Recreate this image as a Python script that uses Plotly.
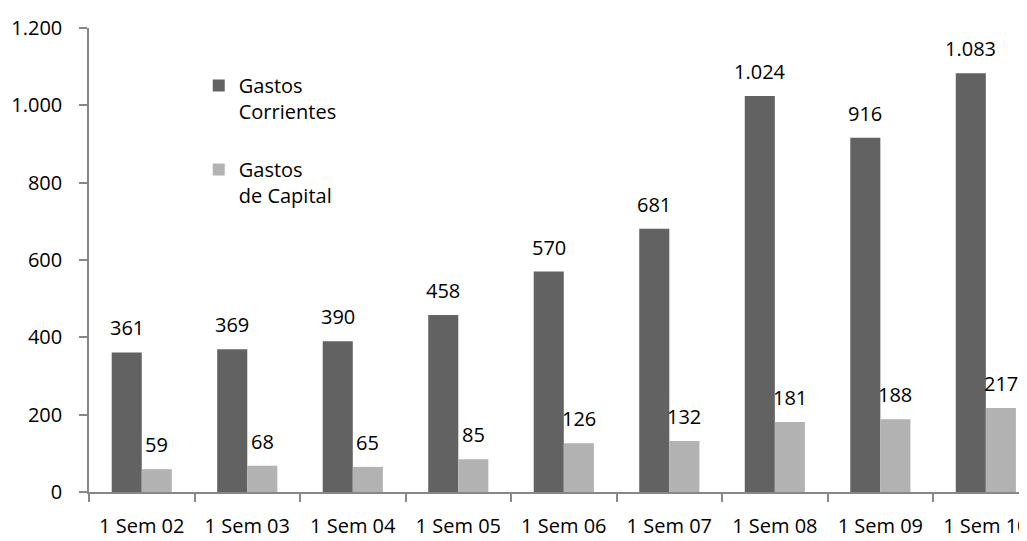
import plotly.graph_objects as go

categories = ["1 Sem 02", "1 Sem 03", "1 Sem 04", "1 Sem 05", "1 Sem 06",
              "1 Sem 07", "1 Sem 08", "1 Sem 09", "1 Sem 10"]
gastos_corrientes = [361, 369, 390, 458, 570, 681, 1024, 916, 1083]
gastos_capital = [59, 68, 65, 85, 126, 132, 181, 188, 217]
y_ticks = [0, 200, 400, 600, 800, 1000, 1200]
y_tick_labels = ["0", "200", "400", "600", "800", "1.000", "1.200"]

FONT = "Open Sans"
TEXT = "#000000"
DARK = "#626262"
LIGHT = "#b2b2b2"
AXIS = "#878787"

def fmt(v):
    return f"{v:,}".replace(",", ".")

fig = go.Figure()
fig.add_trace(go.Bar(name="Gastos<br>Corrientes", x=categories, y=gastos_corrientes,
                     marker=dict(color=DARK, line=dict(width=0)), legendgroup="a"))
fig.add_trace(go.Bar(name="Gastos<br>de Capital", x=categories, y=gastos_capital,
                     marker=dict(color=LIGHT, line=dict(width=0)), legendgroup="b"))

gap = 0.43
half = (1 - gap) / 4.0
annotations = []
for i, (a, b) in enumerate(zip(gastos_corrientes, gastos_capital)):
    for v, off in ((a, -half), (b, half)):
        annotations.append(dict(x=i + off, y=v, xref="x", yref="y", text=fmt(v),
                                showarrow=False, yanchor="bottom", xanchor="center",
                                yshift=9, font=dict(family=FONT, size=20, color=TEXT)))

fig.update_layout(
    width=1019, height=533,
    margin=dict(l=81, r=0, t=20, b=49, autoexpand=False),
    paper_bgcolor="white", plot_bgcolor="white",
    barmode="group", bargap=gap, bargroupgap=0,
    font=dict(family=FONT, size=20, color=TEXT),
    showlegend=True,
    legend=dict(x=0.117, y=0.918, xanchor="left", yanchor="top",
                font=dict(family=FONT, size=20, color=TEXT),
                traceorder="grouped", tracegroupgap=29, valign="top",
                bgcolor="rgba(0,0,0,0)"),
    annotations=annotations,
)
fig.update_xaxes(type="category", range=[-0.5, 8.39], showline=True, linecolor=AXIS,
                 linewidth=1.5, ticks="outside", tickson="boundaries", ticklen=8,
                 tickcolor=AXIS, tickwidth=1.5, showgrid=False, zeroline=False,
                 ticklabelstandoff=15, tickfont=dict(family=FONT, size=20, color=TEXT))
fig.update_yaxes(range=[0, 1200], tickvals=y_ticks, ticktext=y_tick_labels,
                 showline=True, linecolor=AXIS, linewidth=1.5, ticks="outside",
                 ticklen=8, tickcolor=AXIS, tickwidth=1.5, showgrid=False,
                 zeroline=False, ticklabelstandoff=13,
                 tickfont=dict(family=FONT, size=20, color=TEXT))

fig.write_html("out.html")
